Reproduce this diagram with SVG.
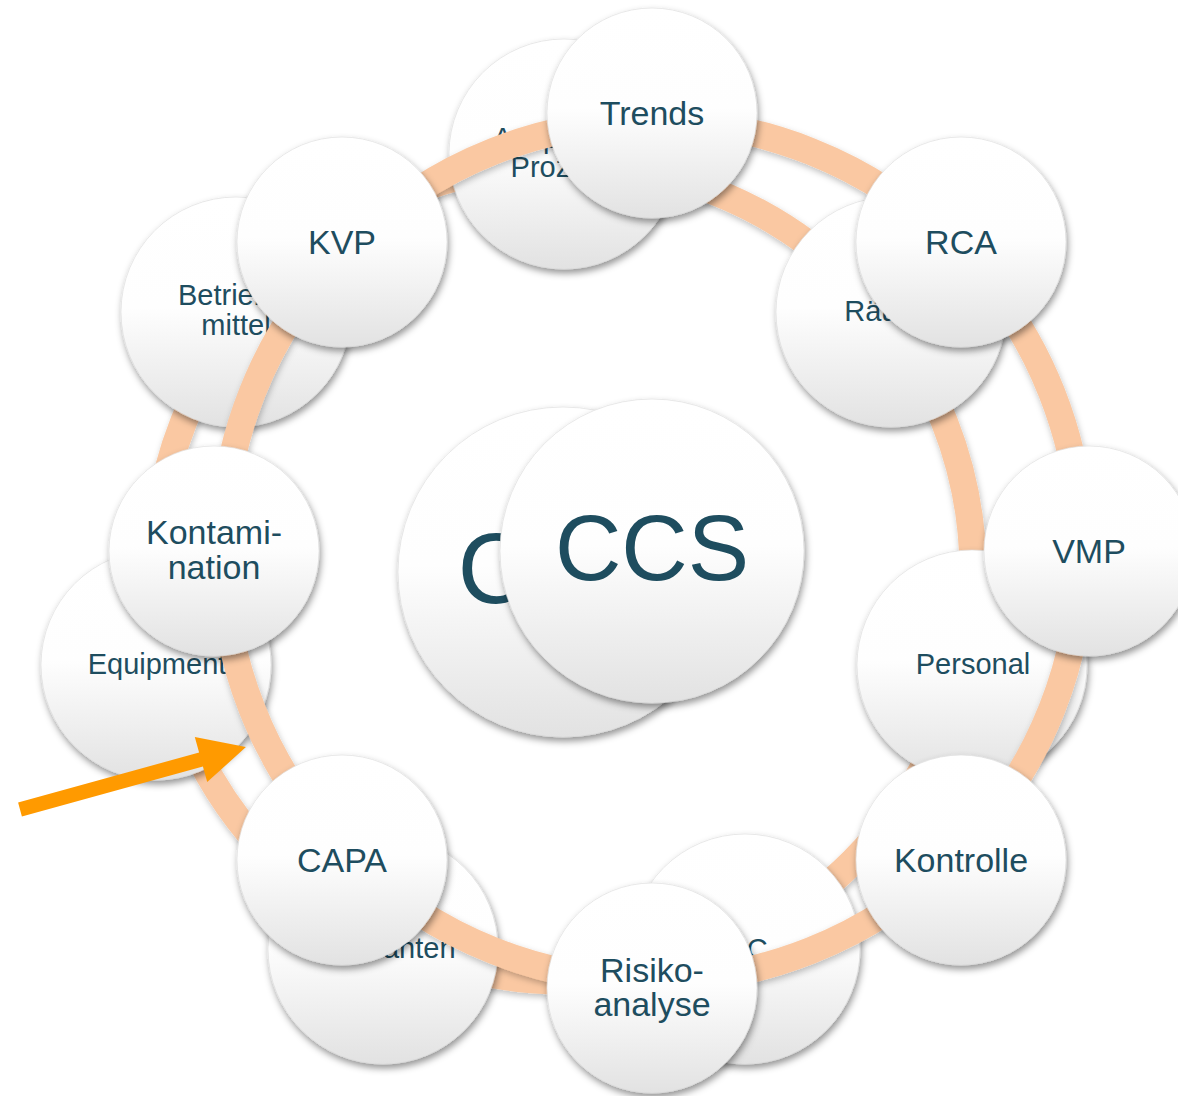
<svg xmlns="http://www.w3.org/2000/svg" width="1178" height="1096" viewBox="0 0 1178 1096">
  <defs>
    <linearGradient id="ballFill" x1="0" y1="0" x2="0" y2="1">
      <stop offset="0" stop-color="#ffffff"/>
      <stop offset="0.48" stop-color="#fefefe"/>
      <stop offset="1" stop-color="#e2e2e2"/>
    </linearGradient>
    <filter id="ballShadow" x="-20%" y="-20%" width="140%" height="145%">
      <feDropShadow dx="1.5" dy="4" stdDeviation="3.5" flood-color="#000" flood-opacity="0.42"/>
    </filter>
    <filter id="ringShadow" x="-10%" y="-10%" width="120%" height="120%">
      <feDropShadow dx="1" dy="3" stdDeviation="3" flood-color="#000" flood-opacity="0.25"/>
    </filter>
  </defs>
  <style>
    .ball { fill: url(#ballFill); stroke: #dcdcdc; stroke-width: 0.6; filter: url(#ballShadow); }
    .ring { fill: none; stroke: #fac8a2; stroke-width: 27; filter: url(#ringShadow); }
    .lbl { font-family: "Liberation Sans", Arial, sans-serif; fill: #1e4d5f; text-anchor: middle; }
    .big { font-size: 34px; }
    .small { font-size: 29px; }
  </style>

  <rect width="1178" height="1096" fill="#ffffff"/>

  <!-- rear ring -->
  <g id="connectors-rear">
    <circle class="ring" cx="564" cy="572" r="409"/>
  </g>

  <!-- rear nodes -->
  <g id="node-prozesse">
    <circle class="ball" cx="564" cy="154" r="115"/>
    <text class="lbl small" x="564" y="148">Aseptische</text>
    <text class="lbl small" x="571" y="177">Prozesse</text>
  </g>
  <g id="node-raeume">
    <circle class="ball" cx="891" cy="312" r="115"/>
    <text class="lbl small" x="891" y="321">Räume</text>
  </g>
  <g id="node-personal">
    <circle class="ball" cx="972" cy="665" r="115"/>
    <text class="lbl small" x="973" y="674">Personal</text>
  </g>
  <g id="node-qc">
    <circle class="ball" cx="745" cy="949" r="115"/>
    <text class="lbl small" x="746" y="959">QC</text>
  </g>
  <g id="node-lieferanten">
    <circle class="ball" cx="383" cy="949" r="115"/>
    <text class="lbl small" x="383" y="958">Lieferanten</text>
  </g>
  <g id="node-equipment">
    <circle class="ball" cx="156" cy="665" r="115"/>
    <text class="lbl small" x="157" y="674">Equipment</text>
  </g>
  <g id="node-betriebsmittel">
    <circle class="ball" cx="236" cy="312" r="115"/>
    <text class="lbl small" x="236" y="305">Betriebs-</text>
    <text class="lbl small" x="236" y="335">mittel</text>
  </g>
  <g id="node-ccs-rear">
    <circle class="ball" cx="563" cy="572" r="165"/>
    <text class="lbl" x="563" y="603" font-size="100">CCS</text>
  </g>

  <!-- front ring -->
  <g id="connectors-front">
    <circle class="ring" cx="652" cy="551" r="430"/>
  </g>

  <!-- front nodes -->
  <g id="node-trends">
    <circle class="ball" cx="652" cy="113" r="105"/>
    <text class="lbl big" x="652" y="125">Trends</text>
  </g>
  <g id="node-rca">
    <circle class="ball" cx="961" cy="242" r="105"/>
    <text class="lbl big" x="961" y="254">RCA</text>
  </g>
  <g id="node-vmp">
    <circle class="ball" cx="1089" cy="551" r="105"/>
    <text class="lbl big" x="1089" y="563">VMP</text>
  </g>
  <g id="node-kontrolle">
    <circle class="ball" cx="961" cy="860" r="105"/>
    <text class="lbl big" x="961" y="872">Kontrolle</text>
  </g>
  <g id="node-risikoanalyse">
    <circle class="ball" cx="652" cy="988" r="105"/>
    <text class="lbl big" x="652" y="982">Risiko-</text>
    <text class="lbl big" x="652" y="1016">analyse</text>
  </g>
  <g id="node-capa">
    <circle class="ball" cx="342" cy="860" r="105"/>
    <text class="lbl big" x="342" y="872">CAPA</text>
  </g>
  <g id="node-kontamination">
    <circle class="ball" cx="214" cy="551" r="105"/>
    <text class="lbl big" x="214" y="544">Kontami-</text>
    <text class="lbl big" x="214" y="579">nation</text>
  </g>
  <g id="node-kvp">
    <circle class="ball" cx="342" cy="242" r="105"/>
    <text class="lbl big" x="342" y="254">KVP</text>
  </g>
  <g id="node-ccs">
    <circle class="ball" cx="652" cy="551" r="152"/>
    <text class="lbl" x="652" y="580" font-size="92">CCS</text>
  </g>

  <!-- pointer arrow -->
  <g id="pointer">
    <polygon fill="#ff9a00" points="18.1,802.5 199.1,752.5 194.8,737 245.9,747.1 207.2,782 202.9,766.5 21.9,816.5"/>
  </g>
</svg>
